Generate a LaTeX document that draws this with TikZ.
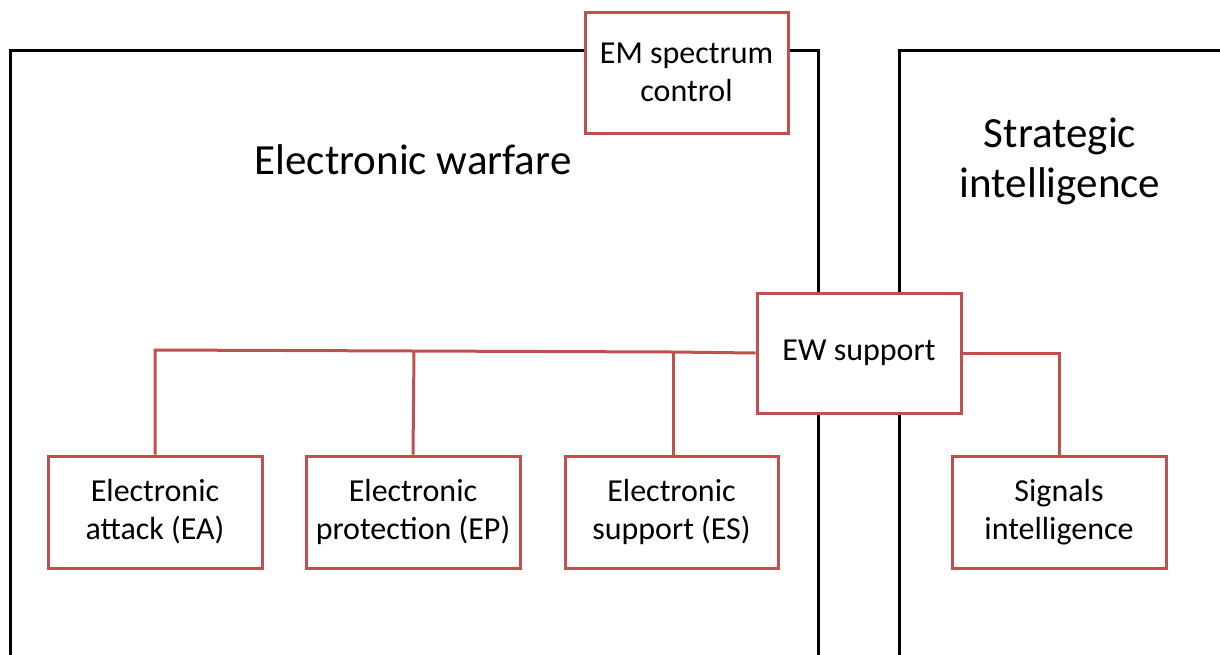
\documentclass[tikz,border=0pt]{standalone}
\usepackage{fontspec}
\setmainfont{Carlito}
\begin{document}
\begin{tikzpicture}[x=1pt,y=-1pt,
  frame/.style={draw=black,line width=3pt},
  rbox/.style={draw=boxred,line width=3pt,fill=white,align=center,inner sep=0pt,
    font=\fontsize{32}{38}\selectfont},
  link/.style={draw=boxred,line width=3pt},
  big/.style={align=center,font=\fontsize{43}{50}\selectfont}]
\definecolor{boxred}{HTML}{C0504D}
\useasboundingbox (0,0) rectangle (1220,654);
\clip (0,0) rectangle (1220,654);
% frames
\draw[frame] (10,680) -- (10,50) -- (818,50) -- (818,680);
\draw[frame] (899,680) -- (899,50) -- (1240,50);
\node[big] (ew) at (413,160) {Electronic warfare};
\node[big] (si) at (1060,161) {Strategic\\intelligence};
% boxes
\node[rbox,minimum width=203pt,minimum height=121pt] (em) at (686.5,72.5) {EM spectrum\\control};
\node[rbox,minimum width=204pt,minimum height=120pt] (ews) at (859,353) {EW support};
\node[rbox,minimum width=214pt,minimum height=112pt] (ea) at (155,512) {Electronic\\attack (EA)};
\node[rbox,minimum width=214pt,minimum height=112pt] (ep) at (413,512) {Electronic\\protection (EP)};
\node[rbox,minimum width=213pt,minimum height=112pt] (es) at (671.5,512) {Electronic\\support (ES)};
\node[rbox,minimum width=214pt,minimum height=112pt] (sig) at (1059,512) {Signals\\intelligence};
% connectors
\coordinate (h1) at (155,350);
\coordinate (h2) at (414,351);
\coordinate (h3) at (673,352);
\draw[link] (ews.west) -- (h3) -- (h2) -- (h1) -- (ea.north);
\draw[link] (h2) -- (ep.north);
\draw[link] (h3) -- (h3 |- es.north);
\draw[link] (ews.east) -| (sig.north);
\end{tikzpicture}
\end{document}
